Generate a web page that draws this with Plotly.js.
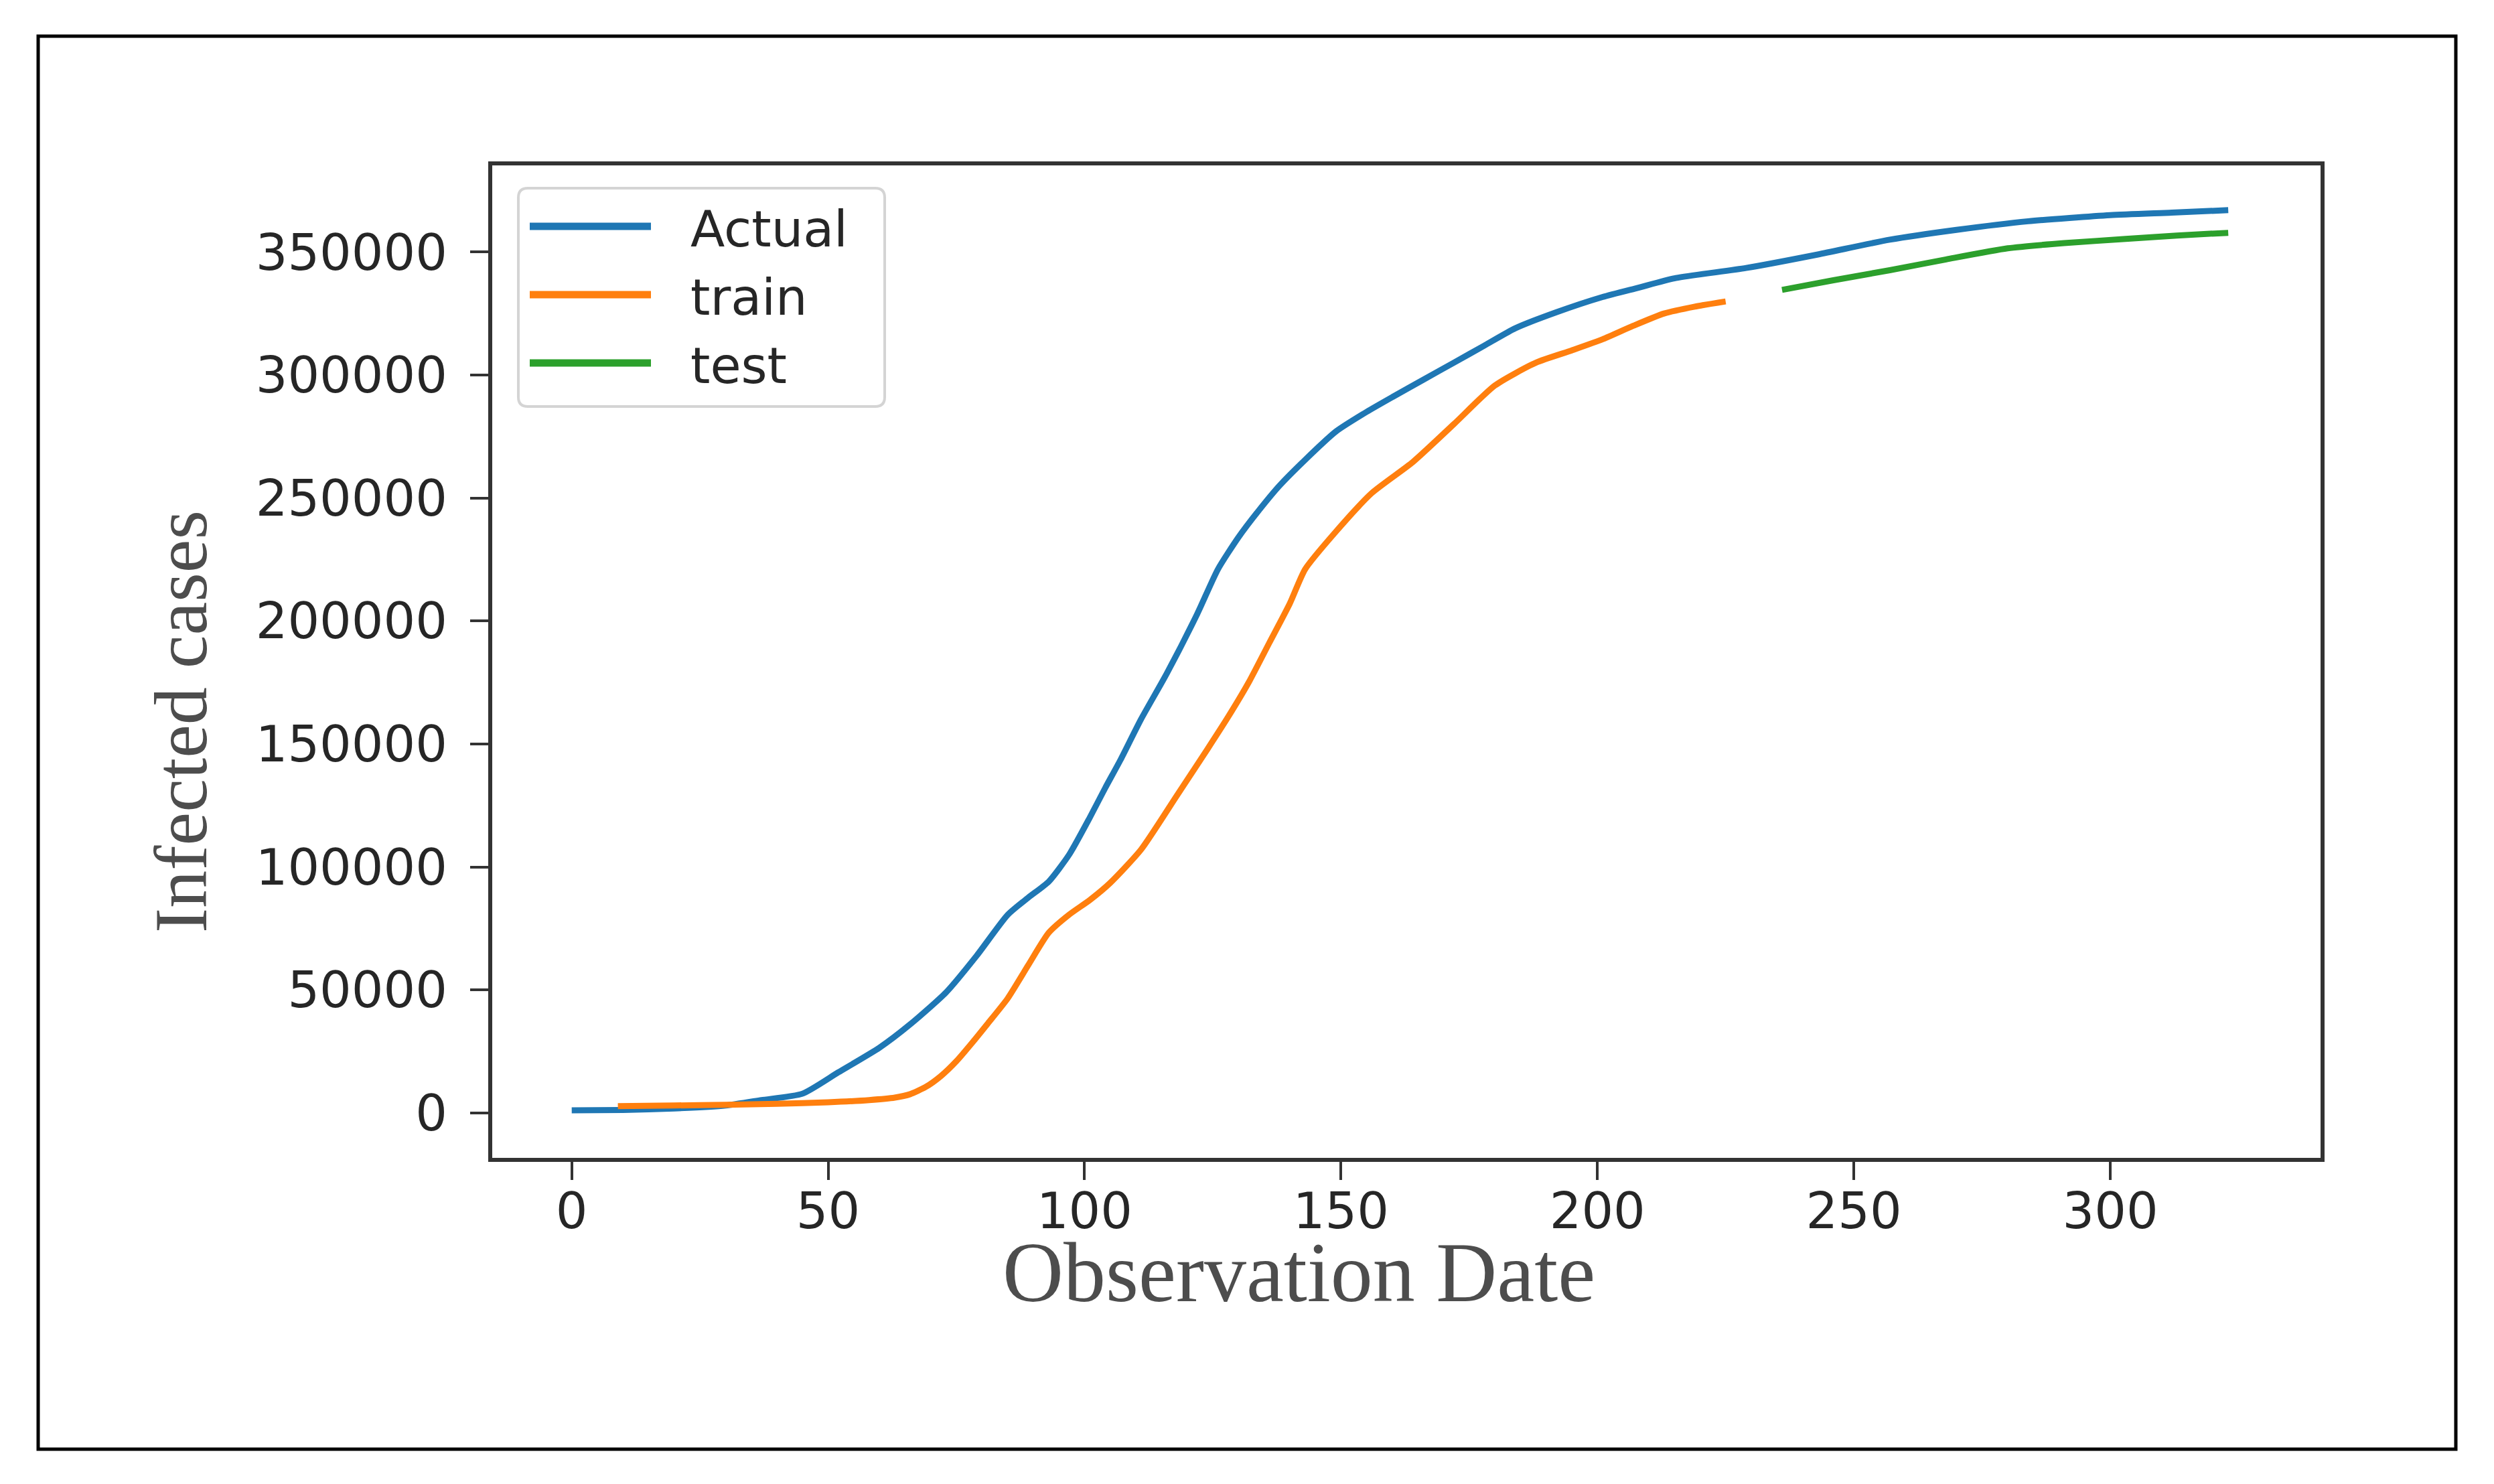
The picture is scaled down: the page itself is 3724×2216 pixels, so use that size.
<!DOCTYPE html>
<html>
<head>
<meta charset="utf-8">
<script src="https://cdn.plot.ly/plotly-3.0.1.min.js"></script>
<style>
  html, body { margin: 0; padding: 0; background: #ffffff; }
  #chart { width: 3724px; height: 2216px; }
</style>
</head>
<body>
<div id="chart"></div>
<script>
// ---------------- data ----------------
const seriesNames = ["Actual", "train", "test"];
const seriesColors = ["#1f77b4", "#ff7f0e", "#2ca02c"];

const actualX = [0,10,20,30,37,45,52,60,66,73,79,85,89,93,97,101,104,107,111,116,122,126,130,134,138,143,149,155,160,166,172,178,184,192,201,208,215,229,243,257,270,284,300,312,323];
const actualY = [1000,1200,1800,3000,5200,7800,16500,26500,36000,49000,64000,80500,87500,94000,105000,120000,132000,143500,160000,178500,203000,221000,234000,245000,255000,265500,277000,285000,291000,298000,305000,312000,319000,325500,331700,335500,339300,343500,349000,355000,359000,362500,365000,366000,367000];

const trainX = [9,20,30,40,50,58,63,66,69,72,75,78,81,85,89,93,97,101,105,111,118,124,128,132,136,140,143,149,156,164,172,180,188,195,201,207,213,219,225];
const trainY = [2700,3000,3300,3700,4300,5200,6200,7600,10500,15000,21000,28300,36000,46500,60000,73200,80600,86500,93500,107000,129000,148000,161000,175000,191000,207000,221000,236300,252000,264600,280000,295700,305000,310000,314500,320000,325000,327800,329900];

const testX = [236,246,257,268,280,291,303,313,323];
const testY = [334600,338500,342600,347000,351500,353600,355300,356700,357800];

const xTickVals = [0,50,100,150,200,250,300];
const yTickVals = [0,50000,100000,150000,200000,250000,300000,350000];

const xTitle = "Observation Date";
const yTitle = "Infected cases";

// ---------------- layout geometry (pixels) ----------------
const FW = 3724, FH = 2216;
const PL = 735, PR = 3465, PT = 247, PB = 1729;
const W = PR - PL, H = PB - PT;
const px = v => (v - PL) / W;
const py = v => (PB - v) / H;

const traces = [
  {x: actualX, y: actualY},
  {x: trainX, y: trainY},
  {x: testX, y: testY}
].map((d, i) => ({
  type: "scatter", mode: "lines", x: d.x, y: d.y, name: seriesNames[i],
  line: {color: seriesColors[i], width: 9, shape: "spline", smoothing: 0.6},
  showlegend: false, hoverinfo: "skip"
}));

// custom legend (rounded box + long line samples)
function roundedRect(x0, y0, x1, y1, r) {
  const P = (a, b) => px(a) + "," + py(b);
  return "M" + P(x0 + r, y0) + " L" + P(x1 - r, y0) + " Q" + P(x1, y0) + " " + P(x1, y0 + r) +
         " L" + P(x1, y1 - r) + " Q" + P(x1, y1) + " " + P(x1 - r, y1) +
         " L" + P(x0 + r, y1) + " Q" + P(x0, y1) + " " + P(x0, y1 - r) +
         " L" + P(x0, y0 + r) + " Q" + P(x0, y0) + " " + P(x0 + r, y0) + " Z";
}

const legendRows = [338, 440, 542];
const shapes = [
  // outer figure frame
  {type: "rect", xref: "paper", yref: "paper", x0: px(57), x1: px(3667), y0: py(2164), y1: py(54),
   line: {color: "#000000", width: 5}, fillcolor: "rgba(0,0,0,0)", layer: "above"},
  // legend box
  {type: "path", xref: "paper", yref: "paper", path: roundedRect(774, 281, 1321, 607, 14),
   line: {color: "#d4d4d4", width: 4}, fillcolor: "rgba(255,255,255,0.85)", layer: "above"}
];
const annotations = [];
seriesNames.forEach((n, i) => {
  shapes.push({type: "line", xref: "paper", yref: "paper",
    x0: px(791), x1: px(972), y0: py(legendRows[i]), y1: py(legendRows[i]),
    line: {color: seriesColors[i], width: 11}, layer: "above"});
  annotations.push({xref: "paper", yref: "paper", x: px(1029), y: py(legendRows[i] + 4),
    xanchor: "left", yanchor: "middle", showarrow: false, text: n,
    font: {family: "DejaVu Sans", size: 75, color: "#262626"}});
});
annotations.push({xref: "paper", yref: "paper", x: px(1939), y: py(1900),
  xanchor: "center", yanchor: "middle", showarrow: false, text: xTitle,
  font: {family: "Liberation Serif", size: 126, color: "#4d4d4d"}});
annotations.push({xref: "paper", yref: "paper", x: px(270), y: py(1078),
  xanchor: "center", yanchor: "middle", showarrow: false, text: yTitle, textangle: -90,
  font: {family: "Liberation Serif", size: 112, color: "#4d4d4d"}});

const axisCommon = {
  showgrid: false, zeroline: false, showline: true, mirror: true,
  linecolor: "#333333", linewidth: 6,
  ticks: "outside", ticklen: 27, tickwidth: 4, tickcolor: "#333333",
  tickfont: {family: "DejaVu Sans", size: 75, color: "#262626"},
  tickmode: "array", tickformat: "d"
};

const layout = {
  width: FW, height: FH,
  paper_bgcolor: "#ffffff", plot_bgcolor: "#ffffff",
  margin: {l: PL, r: FW - PR, t: PT, b: FH - PB, pad: 0},
  showlegend: false,
  xaxis: Object.assign({}, axisCommon, {range: [-15.5, 341], tickvals: xTickVals, ticktext: xTickVals.map(String), ticklabelstandoff: -18}),
  yaxis: Object.assign({}, axisCommon, {range: [-18300, 385200], tickvals: yTickVals, ticktext: yTickVals.map(String), ticklabelstandoff: 19}),
  shapes: shapes,
  annotations: annotations
};

Plotly.newPlot("chart", traces, layout, {staticPlot: true, displayModeBar: false});
</script>
</body>
</html>
